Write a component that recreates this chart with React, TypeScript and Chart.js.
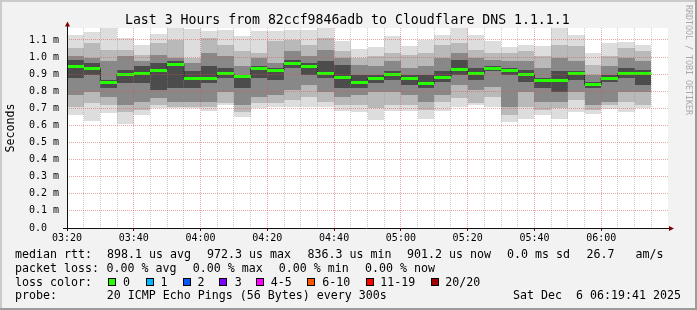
import React, { useEffect, useRef } from 'react';
import { Chart, registerables } from 'chart.js';

Chart.register(...registerables);

// ---------- data ----------
const TITLE = 'Last 3 Hours from 82ccf9846adb to Cloudflare DNS 1.1.1.1';
const Y_AXIS_TITLE = 'Seconds';
const X_LABELS = ['03:20', '03:40', '04:00', '04:20', '04:40', '05:00', '05:20', '05:40', '06:00'];
const Y_TICKS = [0, 0.1, 0.2, 0.3, 0.4, 0.5, 0.6, 0.7, 0.8, 0.9, 1.0, 1.1];
const Y_MAX = 1.17;
const STEP_MIN = 5;
const RANGE_MIN = 180;

// smoke (ms) per 5-minute step, 03:20 .. 06:15
const RTT_MAX = [1.131, 1.145, 1.170, 1.112, 1.070, 1.135, 1.170, 1.165, 1.150, 1.160, 1.121, 1.151, 1.155, 1.160, 1.160, 1.170, 1.096, 1.049, 1.056, 1.121, 1.062, 1.102, 1.127, 1.170, 1.127, 1.092, 1.056, 1.072, 1.062, 1.170, 1.127, 1.024, 1.082, 1.088, 1.072];
const RTT_HI2 = [1.053, 1.082, 1.043, 1.043, 1.014, 1.082, 1.102, 0.994, 1.112, 1.073, 1.033, 1.024, 1.092, 1.102, 1.073, 1.112, 1.033, 0.994, 1.004, 1.024, 1.014, 1.024, 1.073, 1.082, 1.043, 1.024, 1.024, 1.033, 1.004, 1.073, 1.063, 0.955, 1.004, 1.053, 1.033];
const RTT_HI3 = [1.004, 0.994, 0.975, 1.004, 0.975, 1.014, 0.994, 0.965, 1.024, 1.004, 0.945, 0.994, 0.965, 1.033, 1.004, 1.043, 0.994, 0.955, 0.945, 0.975, 0.935, 0.945, 0.994, 1.024, 0.994, 0.984, 0.975, 0.975, 0.935, 0.994, 0.975, 0.896, 0.945, 0.994, 0.975];
const RTT_HI4 = [0.984, 0.965, 0.867, 0.925, 0.945, 0.965, 0.975, 0.916, 0.945, 0.935, 0.896, 0.945, 0.935, 0.984, 0.965, 0.975, 0.955, 0.896, 0.896, 0.916, 0.896, 0.896, 0.916, 0.984, 0.935, 0.945, 0.935, 0.925, 0.876, 0.916, 0.916, 0.857, 0.896, 0.935, 0.925];
const RTT_MEDIAN = [0.947, 0.935, 0.850, 0.898, 0.904, 0.923, 0.955, 0.872, 0.876, 0.902, 0.884, 0.931, 0.921, 0.965, 0.945, 0.906, 0.880, 0.851, 0.872, 0.896, 0.876, 0.845, 0.882, 0.927, 0.904, 0.931, 0.919, 0.896, 0.862, 0.862, 0.902, 0.837, 0.874, 0.906, 0.901];
const RTT_LO4 = [0.876, 0.896, 0.818, 0.847, 0.847, 0.808, 0.818, 0.818, 0.847, 0.876, 0.818, 0.876, 0.867, 0.935, 0.896, 0.876, 0.818, 0.818, 0.847, 0.867, 0.837, 0.818, 0.857, 0.896, 0.867, 0.916, 0.896, 0.857, 0.818, 0.798, 0.867, 0.818, 0.857, 0.876, 0.837];
const RTT_LO3 = [0.778, 0.798, 0.769, 0.720, 0.739, 0.759, 0.739, 0.739, 0.739, 0.798, 0.720, 0.769, 0.778, 0.808, 0.837, 0.798, 0.769, 0.778, 0.798, 0.798, 0.778, 0.739, 0.778, 0.837, 0.808, 0.827, 0.710, 0.798, 0.739, 0.739, 0.798, 0.720, 0.739, 0.798, 0.798];
const RTT_LO2 = [0.710, 0.729, 0.720, 0.676, 0.690, 0.720, 0.710, 0.710, 0.710, 0.729, 0.680, 0.729, 0.729, 0.749, 0.769, 0.739, 0.720, 0.720, 0.700, 0.720, 0.720, 0.690, 0.739, 0.759, 0.729, 0.769, 0.661, 0.710, 0.690, 0.700, 0.749, 0.690, 0.720, 0.739, 0.720];
const RTT_MIN = [0.661, 0.625, 0.670, 0.610, 0.660, 0.700, 0.700, 0.700, 0.684, 0.720, 0.650, 0.700, 0.710, 0.710, 0.710, 0.710, 0.684, 0.676, 0.630, 0.684, 0.684, 0.640, 0.684, 0.710, 0.720, 0.710, 0.620, 0.640, 0.660, 0.640, 0.676, 0.665, 0.696, 0.680, 0.700];

const MEDIAN_STATS = ['898.1 us avg', '972.3 us max', '836.3 us min', '901.2 us now', '0.0 ms sd', '26.7', 'am/s'];
const LOSS_STATS = ['0.00 % avg', '0.00 % max', '0.00 % min', '0.00 % now'];
const LOSS_LABELS = ['0', '1', '2', '3', '4-5', '6-10', '11-19', '20/20'];
const LOSS_COLORS = ['#26ff00', '#00b8ff', '#0059ff', '#7e00ff', '#ff00ff', '#ff5500', '#ff0000', '#a10000'];
const PROBE_TEXT = '20 ICMP Echo Pings (56 Bytes) every 300s';
const DATE_TEXT = 'Sat Dec  6 06:19:41 2025';
const WATERMARK = 'RRDTOOL / TOBI OETIKER';

// ---------- layout / style ----------
const W = 697;
const H = 310;
const MONO = "'DejaVu Sans Mono', monospace";
const BG = '#f2f2f2';
const MAJOR_GRID = 'rgba(222,80,80,0.5)';
const MINOR_GRID = 'rgba(143,143,143,0.45)';
const BAND_COLORS = ['#dddddd', '#b9b9b9', '#888888', '#4c4c4c'];
const MEDIAN_X = [107, 207, 307.5, 407, 507, 586.5, 635.5];
const LOSS_X = [106.6, 192.7, 278.7, 365];
const SQUARE_X = [108.3, 145.7, 182.7, 219.3, 256, 307.3, 365.7, 431];
const LOSS_LABEL_X = [123, 160.5, 197.5, 234.7, 270.7, 322.3, 380.3, 445.3];
const ROW_Y = [258, 271.7, 285.5, 299.3];
const LEGEND_FONT = `11.63px ${MONO}`;

const bands: [number[], number[], string][] = [
  [RTT_MAX, RTT_MIN, BAND_COLORS[0]],
  [RTT_HI2, RTT_LO2, BAND_COLORS[1]],
  [RTT_HI3, RTT_LO3, BAND_COLORS[2]],
  [RTT_HI4, RTT_LO4, BAND_COLORS[3]],
];

const rrdPlugin = {
  id: 'rrdLook',
  beforeDraw(chart: any) {
    const { ctx, chartArea: a } = chart;
    ctx.save();
    ctx.fillStyle = BG;
    ctx.fillRect(0, 0, W, H);
    ctx.fillStyle = '#cbcbcb';
    ctx.fillRect(0, 0, W, 2);
    ctx.fillRect(0, 0, 2, H);
    ctx.fillStyle = '#9c9c9c';
    ctx.fillRect(0, H - 2, W, 2);
    ctx.fillRect(W - 2, 0, 2, H);
    ctx.fillStyle = '#ffffff';
    ctx.fillRect(a.left, a.top, a.right - a.left, a.bottom - a.top);
    // title
    ctx.fillStyle = '#000000';
    ctx.font = `13.2px ${MONO}`;
    ctx.textAlign = 'center';
    ctx.textBaseline = 'alphabetic';
    ctx.fillText(TITLE, 347.3, 24);
    ctx.restore();
  },
  beforeDatasetsDraw(chart: any) {
    const { ctx, scales } = chart;
    const xs = scales.x;
    const ys = scales.y;
    ctx.save();
    bands.forEach(([hi, lo, color]) => {
      ctx.fillStyle = color;
      hi.forEach((v, i) => {
        const x0 = Math.round(xs.getPixelForValue(i * STEP_MIN));
        const x1 = Math.round(xs.getPixelForValue((i + 1) * STEP_MIN));
        const y0 = Math.round(ys.getPixelForValue(Math.min(v, Y_MAX)));
        const y1 = Math.round(ys.getPixelForValue(lo[i]));
        ctx.fillRect(x0, y0, x1 - x0, y1 - y0);
      });
    });
    ctx.restore();
  },
  afterDatasetsDraw(chart: any) {
    const { ctx, scales } = chart;
    const xs = scales.x;
    const ys = scales.y;
    ctx.save();
    ctx.fillStyle = LOSS_COLORS[0];
    RTT_MEDIAN.forEach((v, i) => {
      const x0 = Math.round(xs.getPixelForValue(i * STEP_MIN));
      const x1 = Math.round(xs.getPixelForValue((i + 1) * STEP_MIN));
      const y = ys.getPixelForValue(v);
      ctx.fillRect(x0, Math.round(y - 1.5), x1 - x0, 3);
    });
    ctx.restore();
  },
  afterDraw(chart: any) {
    const { ctx, chartArea: a } = chart;
    ctx.save();
    // axes
    const ax = Math.round(a.left) + 0.5;
    const ay = Math.round(a.bottom) + 0.5;
    ctx.strokeStyle = '#101010';
    ctx.lineWidth = 1;
    ctx.beginPath();
    ctx.moveTo(a.left - 4, ay);
    ctx.lineTo(a.right + 2, ay);
    ctx.moveTo(ax, a.bottom + 3);
    ctx.lineTo(ax, a.top - 2);
    ctx.stroke();
    // arrows
    ctx.fillStyle = '#800000';
    ctx.beginPath();
    ctx.moveTo(ax, a.top - 6.5);
    ctx.lineTo(ax - 2.5, a.top - 1.5);
    ctx.lineTo(ax + 2.5, a.top - 1.5);
    ctx.closePath();
    ctx.fill();
    ctx.beginPath();
    ctx.moveTo(a.right + 6, ay);
    ctx.lineTo(a.right + 1, ay - 2.5);
    ctx.lineTo(a.right + 1, ay + 2.5);
    ctx.closePath();
    ctx.fill();

    // legend
    ctx.fillStyle = '#000000';
    ctx.font = LEGEND_FONT;
    ctx.textBaseline = 'alphabetic';
    ctx.textAlign = 'left';
    ctx.fillText('median rtt:', 15, ROW_Y[0]);
    MEDIAN_STATS.forEach((t, i) => ctx.fillText(t, MEDIAN_X[i], ROW_Y[0]));
    ctx.fillText('packet loss:', 15, ROW_Y[1]);
    LOSS_STATS.forEach((t, i) => ctx.fillText(t, LOSS_X[i], ROW_Y[1]));
    ctx.fillText('loss color:', 15, ROW_Y[2]);
    LOSS_LABELS.forEach((t, i) => {
      const sx = Math.round(SQUARE_X[i]);
      const sy = 278;
      ctx.fillStyle = '#000000';
      ctx.fillRect(sx, sy, 8, 8);
      ctx.fillStyle = LOSS_COLORS[i];
      ctx.fillRect(sx + 1, sy + 1, 6, 6);
      ctx.fillStyle = '#000000';
      ctx.fillText(t, LOSS_LABEL_X[i], ROW_Y[2]);
    });
    ctx.fillText('probe:', 15, ROW_Y[3]);
    ctx.fillText(PROBE_TEXT, 106.7, ROW_Y[3]);
    ctx.fillText(DATE_TEXT, 513, ROW_Y[3]);

    // watermark
    ctx.save();
    ctx.translate(685.5, 5);
    ctx.rotate(Math.PI / 2);
    ctx.fillStyle = '#a8a8a8';
    ctx.font = `8.3px ${MONO}`;
    ctx.textBaseline = 'alphabetic';
    ctx.fillText(WATERMARK, 0, 0);
    ctx.restore();

    ctx.restore();
  },
};

export default function App() {
  const ref = useRef<HTMLCanvasElement>(null);

  useEffect(() => {
    const canvas = ref.current;
    if (!canvas) return;
    const medianPoints = RTT_MEDIAN.map((v, i) => ({ x: i * STEP_MIN, y: v }));
    medianPoints.push({ x: RTT_MEDIAN.length * STEP_MIN, y: RTT_MEDIAN[RTT_MEDIAN.length - 1] });

    const chart = new Chart(canvas, {
      type: 'line',
      data: {
        datasets: [
          {
            data: medianPoints,
            borderColor: '#202020',
            borderWidth: 1,
            pointRadius: 0,
            stepped: true,
            fill: false,
          },
        ],
      },
      options: {
        animation: false,
        responsive: false,
        devicePixelRatio: 1,
        layout: { padding: { left: 0, right: 29, top: 28, bottom: 0 } },
        plugins: {
          legend: { display: false },
          tooltip: { enabled: false },
          title: { display: false },
        },
        scales: {
          x: {
            type: 'linear',
            min: 0,
            max: RANGE_MIN,
            afterFit: (s: any) => {
              s.height = 82;
            },
            afterBuildTicks: (s: any) => {
              const t = [];
              for (let v = 0; v < RANGE_MIN; v += STEP_MIN) t.push({ value: v });
              s.ticks = t;
            },
            ticks: {
              autoSkip: false,
              maxRotation: 0,
              padding: 1,
              color: '#000000',
              font: { family: MONO, size: 10 },
              callback: (v: any) => (Number(v) % 20 === 0 ? X_LABELS[Number(v) / 20] ?? '' : ''),
            },
            grid: {
              z: 1,
              color: (c: any) => (c.tick && c.tick.value % 20 === 0 ? MAJOR_GRID : MINOR_GRID),
              lineWidth: 1,
              drawTicks: true,
              tickLength: 3,
              tickColor: (c: any) => (c.tick && c.tick.value % 20 === 0 ? '#800000' : 'rgba(0,0,0,0)'),
            },
            border: { display: false, dash: [1, 1] },
          },
          y: {
            type: 'linear',
            min: 0,
            max: Y_MAX,
            afterFit: (s: any) => {
              s.width = 67;
            },
            afterBuildTicks: (s: any) => {
              s.ticks = Y_TICKS.map((v) => ({ value: v }));
            },
            ticks: {
              padding: 8,
              color: '#000000',
              font: { family: MONO, size: 10 },
              callback: (v: any) => (Number(v) === 0 ? '0.0  ' : `${Number(v).toFixed(1)} m`),
            },
            grid: {
              z: 1,
              color: (c: any) => (c.tick && c.tick.value === 0 ? 'rgba(0,0,0,0)' : MAJOR_GRID),
              lineWidth: 1,
              drawTicks: false,
            },
            border: { display: false, dash: [1, 1] },
            title: {
              display: true,
              text: Y_AXIS_TITLE,
              color: '#000000',
              font: { family: MONO, size: 11.63 },
              padding: { top: 4, bottom: 4 },
            },
          },
        },
      },
      plugins: [rrdPlugin],
    } as any);

    return () => chart.destroy();
  }, []);

  return (
    <div style={{ position: 'fixed', left: 0, top: 0, width: W, height: H, background: BG }}>
      <canvas ref={ref} width={W} height={H} style={{ display: 'block', width: W, height: H }} />
    </div>
  );
}
